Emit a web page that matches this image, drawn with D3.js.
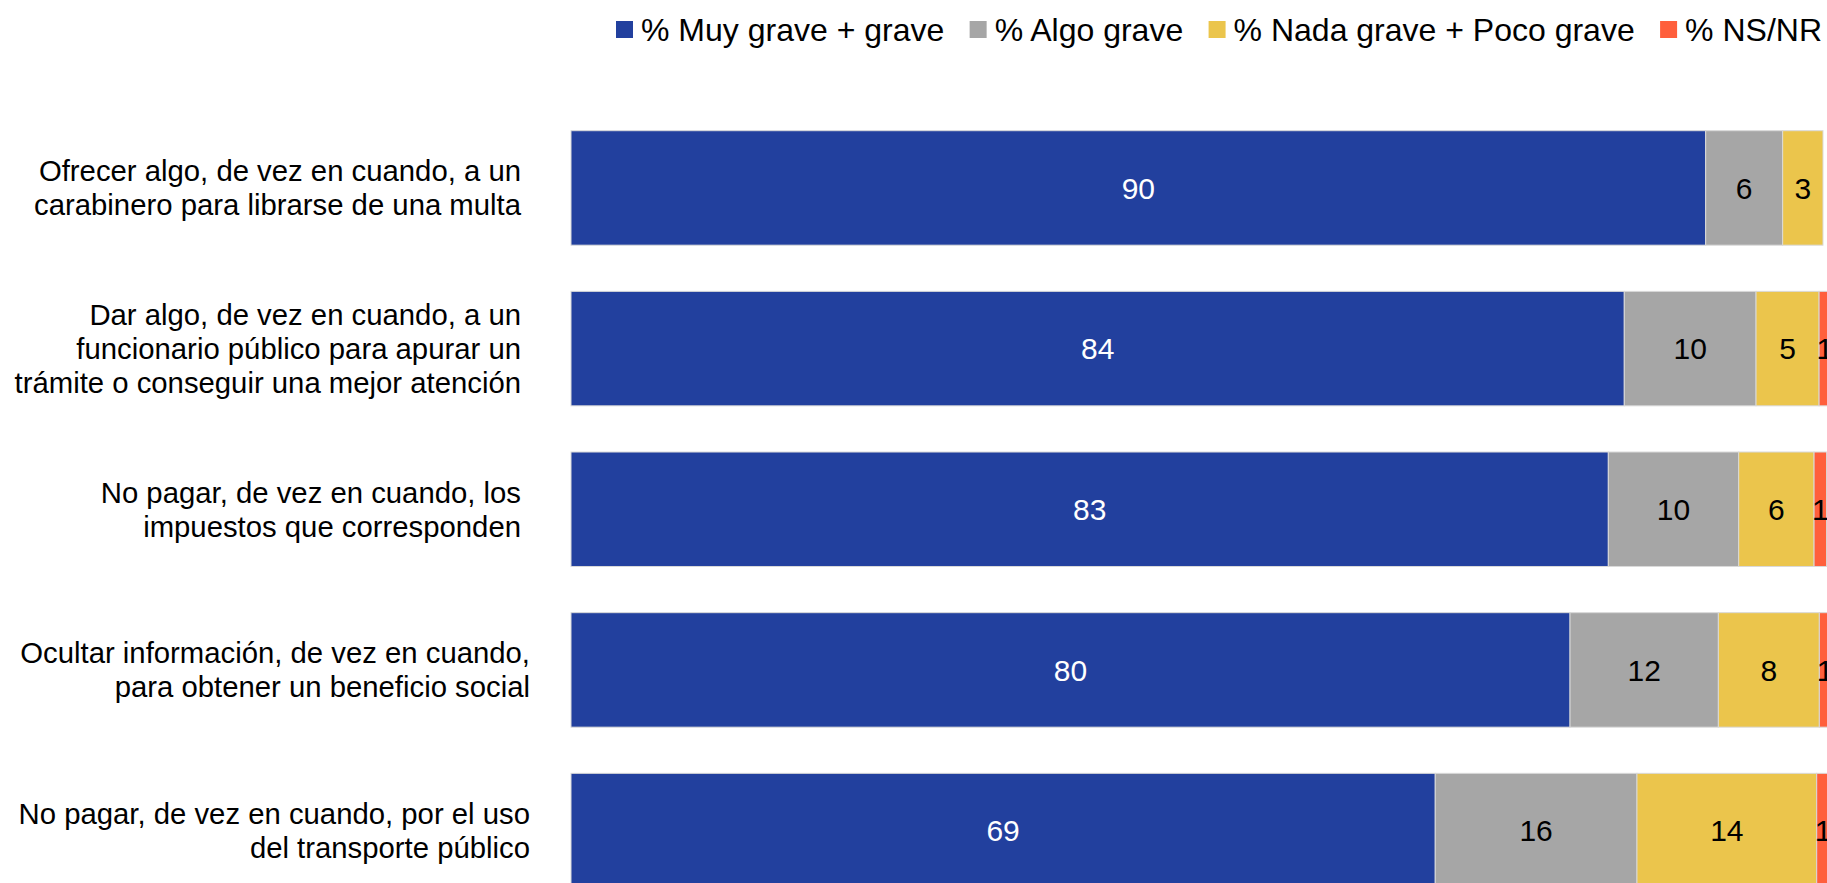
<!DOCTYPE html>
<html lang="es">
<head>
    <meta charset="UTF-8">
    <title>Gravedad de conductas</title>
    <style>
        html, body {
            margin: 0;
            padding: 0;
            background: #ffffff;
            overflow: hidden;
        }
        svg {
            display: block;
            font-family: "Liberation Sans", Arial, sans-serif;
        }
        .cat-label {
            font-size: 29.3px;
            fill: #000000;
        }
        .value-label {
            font-size: 30px;
        }
        .legend text {
            font-size: 32px;
            fill: #000000;
        }
    </style>
</head>
<body>
    <div id="chart"></div>

    <script src="https://d3js.org/d3.v7.min.js"></script>
    <script>
        // Datos
        const categories = [
            "Ofrecer algo, de vez en cuando, a un\ncarabinero para librarse de una multa",
            "Dar algo, de vez en cuando, a un\nfuncionario público para apurar un\ntrámite o conseguir una mejor atención",
            "No pagar, de vez en cuando, los\nimpuestos que corresponden",
            "Ocultar información, de vez en cuando,\npara obtener un beneficio social",
            "No pagar, de vez en cuando, por el uso\ndel transporte público"
        ];
        const seriesNames = ["% Muy grave + grave", "% Algo grave", "% Nada grave + Poco grave", "% NS/NR"];
        const muyGrave = [90.34, 83.86, 82.59, 79.54, 68.81];
        const algoGrave = [6.13, 10.49, 10.38, 11.81, 16.06];
        const nadaGrave = [3.21, 5.02, 6.0, 8.04, 14.31];
        const nsnr = [0, 0.9, 1.0, 0.9, 1.0];

        const colors = ["#22409e", "#a6a6a6", "#ebc54c", "#ff5f3c"];
        const labelColors = ["#ffffff", "#000000", "#000000", "#000000"];

        const W = 1827, H = 883;
        const plotLeft = 571;
        // borde derecho de cada etiqueta de categoría
        const labelRight = [521, 521, 521, 530, 530];

        const seriesValues = [muyGrave, algoGrave, nadaGrave, nsnr];
        const rows = categories.map((c, i) => {
            const r = { cat: c };
            seriesNames.forEach((s, j) => { r[s] = seriesValues[j][i]; });
            return r;
        });

        const svg = d3.select("#chart")
            .append("svg")
            .attr("width", W)
            .attr("height", H);

        const x = d3.scaleLinear()
            .domain([0, 100])
            .range([plotLeft, W]);

        const y = d3.scaleBand()
            .domain(categories)
            .range([130.7, 887.8])
            .paddingInner(0.2875)
            .paddingOuter(0);

        const stacked = d3.stack().keys(seriesNames)(rows);

        // Barras
        const groups = svg.selectAll(".serie")
            .data(stacked)
            .enter()
            .append("g")
            .attr("class", "serie")
            .attr("fill", (d, i) => colors[i]);

        groups.selectAll("rect")
            .data(d => d)
            .enter()
            .append("rect")
            .attr("x", d => x(d[0]))
            .attr("y", d => y(d.data.cat))
            .attr("width", d => x(d[1]) - x(d[0]))
            .attr("height", y.bandwidth())
            .attr("stroke", "#d9d9d9")
            .attr("stroke-width", 1);

        // Etiquetas de valores
        const fmt = d3.format(".0f");
        groups.each(function (s, i) {
            d3.select(this).selectAll("text")
                .data(s.filter(d => d[1] - d[0] > 0))
                .enter()
                .append("text")
                .attr("class", "value-label")
                .attr("x", d => (x(d[0]) + x(d[1])) / 2)
                .attr("y", d => y(d.data.cat) + y.bandwidth() / 2)
                .attr("dy", "0.36em")
                .attr("text-anchor", "middle")
                .attr("fill", labelColors[i])
                .text(d => fmt(d[1] - d[0]));
        });

        // Etiquetas de categorías
        const lineH = 34;
        categories.forEach((c, i) => {
            const lines = c.split("\n");
            const cy = y(c) + y.bandwidth() / 2;
            const t = svg.append("text")
                .attr("class", "cat-label")
                .attr("text-anchor", "end")
                .attr("y", cy - (lines.length - 1) * lineH / 2);
            lines.forEach((ln, k) => {
                t.append("tspan")
                    .attr("x", labelRight[i])
                    .attr("dy", k === 0 ? "0.36em" : lineH)
                    .text(ln);
            });
        });

        // Leyenda: empieza en 616 y termina en 1822
        const legend = svg.append("g").attr("class", "legend");
        const legStart = 616, legEnd = 1822, sq = 17, sqGap = 8;
        const items = seriesNames.map((name, i) => {
            const g = legend.append("g");
            g.append("rect")
                .attr("y", 21)
                .attr("width", sq)
                .attr("height", sq)
                .attr("fill", colors[i]);
            const txt = g.append("text")
                .attr("x", sq + sqGap)
                .attr("y", 41)
                .text(name);
            return { g, w: sq + sqGap + txt.node().getComputedTextLength() };
        });
        const totalW = d3.sum(items, d => d.w);
        const gap = (legEnd - legStart - totalW) / (items.length - 1);
        let lx = legStart;
        items.forEach(it => {
            it.g.attr("transform", `translate(${lx},0)`);
            lx += it.w + gap;
        });
    </script>
</body>
</html>
